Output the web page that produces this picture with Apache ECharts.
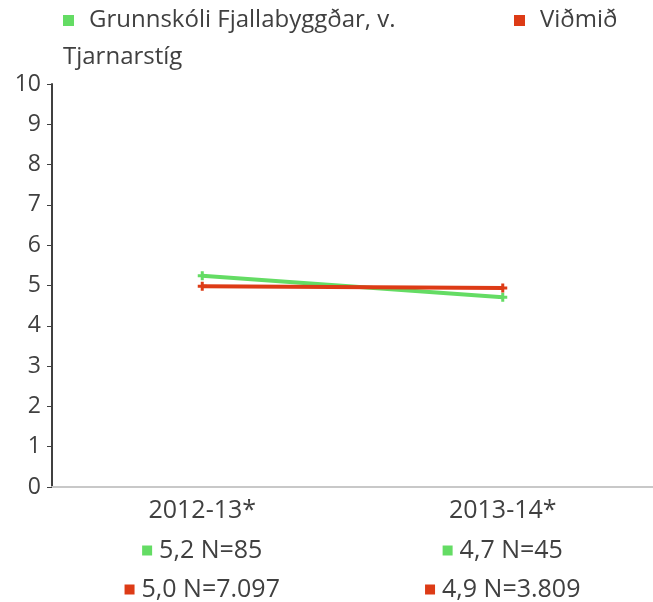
<!DOCTYPE html>
<html>
<head>
<meta charset="utf-8">
<script src="https://cdn.jsdelivr.net/npm/echarts@6/dist/echarts.min.js"></script>
<style>
  html, body { margin: 0; padding: 0; background: #fff; }
  #chart { width: 653px; height: 602px; }
</style>
</head>
<body>
<div id="chart"></div>
<script>
// gögn úr myndinni
const categories = ['2012-13*', '2013-14*'];
const schoolName = 'Grunnskóli Fjallabyggðar, v. Tjarnarstíg';
const refName = 'Viðmið';
const schoolValues = [5.24, 4.71];
const refValues = [4.98, 4.94];
const schoolTable = ['5,2 N=85', '4,7 N=45'];
const refTable = ['5,0 N=7.097', '4,9 N=3.809'];
const yTicks = [0, 10, 1]; // min, max, interval

const GREEN = '#64dc64';
const RED = '#dd3b16';
const TEXT = '#404040';
const FONT = 'Open Sans';
const PLUS = 'path://M3,0H6V3H9V6H6V9H3V6H0V3H3Z';

const chart = echarts.init(document.getElementById('chart'));

function legendFor(name, left, color, label) {
    return {
        data: [name],
        left: left,
        top: 2,
        padding: 0,
        itemWidth: 0,
        itemHeight: 0,
        selectedMode: false,
        formatter: function () { return label; },
        textStyle: {
            fontFamily: FONT,
            fontSize: 24,
            color: TEXT,
            lineHeight: 37,
            rich: {
                sq: { width: 11, height: 11, backgroundColor: color },
                sp: { width: 15 },
                t: { fontFamily: FONT, fontSize: 24, color: TEXT, lineHeight: 37 }
            }
        }
    };
}

chart.setOption({
    animation: false,
    legend: [
        legendFor(schoolName, 57, GREEN, '{sq| }{sp| }{t|Grunnskóli Fjallabyggðar, v.}\n{t|Tjarnarstíg}'),
        legendFor(refName, 508, RED, '{sq| }{sp| }{t|Viðmið}')
    ],
    grid: { left: 52, right: 0, top: 84, bottom: 115, outerBoundsMode: 'none', containLabel: false },
    xAxis: {
        type: 'category',
        data: categories,
        axisLine: { lineStyle: { color: '#c8c8c8', width: 2 } },
        axisTick: { show: false },
        axisLabel: {
            margin: 4,
            interval: 0,
            fontFamily: FONT,
            fontSize: 25,
            color: TEXT,
            lineHeight: 39,
            formatter: function (v, i) {
                return '{c|' + v + '}\n{g| }{sp| }{v|' + schoolTable[i] + '}\n{r| }{sp| }{v|' + refTable[i] + '}';
            },
            rich: {
                c: { fontFamily: FONT, fontSize: 25, color: TEXT, lineHeight: 40 },
                v: { fontFamily: FONT, fontSize: 25, color: TEXT, lineHeight: 38 },
                sp: { width: 7 },
                g: { width: 10, height: 10, backgroundColor: GREEN },
                r: { width: 10, height: 10, backgroundColor: RED }
            }
        }
    },
    yAxis: {
        type: 'value',
        min: yTicks[0],
        max: yTicks[1],
        interval: yTicks[2],
        axisLine: { show: true, lineStyle: { color: TEXT, width: 2 } },
        axisTick: { show: true, length: 5, lineStyle: { color: TEXT, width: 1 } },
        splitLine: { show: false },
        axisLabel: { fontFamily: FONT, fontSize: 23, color: TEXT, margin: 11 }
    },
    series: [
        {
            name: schoolName,
            type: 'line',
            data: schoolValues,
            color: GREEN,
            symbol: PLUS,
            symbolSize: 9,
            lineStyle: { width: 4, color: GREEN },
            itemStyle: { color: GREEN }
        },
        {
            name: refName,
            type: 'line',
            data: refValues,
            color: RED,
            symbol: PLUS,
            symbolSize: 9,
            lineStyle: { width: 4, color: RED },
            itemStyle: { color: RED }
        }
    ]
});
</script>
</body>
</html>
